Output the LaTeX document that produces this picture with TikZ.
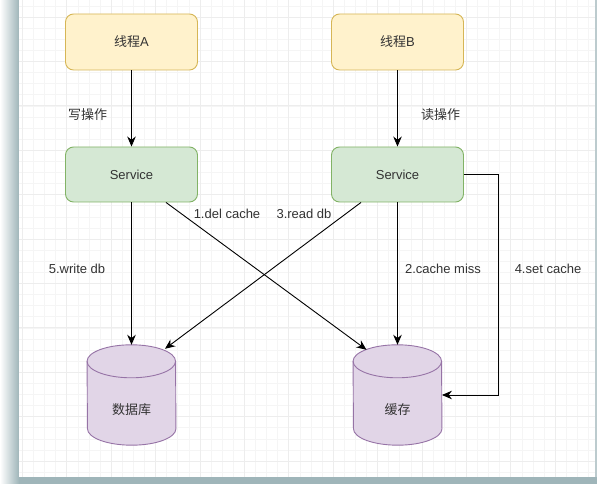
\documentclass[tikz,border=0pt]{standalone}
\usepackage{fontspec}
\setmainfont{Liberation Sans}
\newfontfamily\cjk{Noto Sans CJK SC}
\usetikzlibrary{arrows.meta,calc,positioning}

\definecolor{yfill}{HTML}{FFF2CC}
\definecolor{yline}{HTML}{D6B656}
\definecolor{gfill}{HTML}{D5E8D4}
\definecolor{gline}{HTML}{82B366}
\definecolor{pfill}{HTML}{E1D5E7}
\definecolor{pline}{HTML}{9673A6}
\definecolor{shadowc}{HTML}{9FB5B9}
\definecolor{txt}{HTML}{333333}

\pgfdeclarelayer{sheet}
\pgfdeclarelayer{drums}
\pgfsetlayers{sheet,drums,main}

\def\drumrx{44.25pt}
\def\drumry{16.5pt}

\begin{document}
\begin{tikzpicture}[x=1pt,y=1pt,font=\fontsize{13}{15}\selectfont,
    >={Stealth[length=10pt,width=8.5pt]}]
    \tikzstyle{thread}=[rectangle,rounded corners=8pt,draw=yline,fill=yfill,line width=0.9pt,minimum width=132pt,minimum height=56pt,text=txt]
    \tikzstyle{service}=[rectangle,rounded corners=8pt,draw=gline,fill=gfill,line width=0.9pt,minimum width=132pt,minimum height=55pt,text=txt]
    \tikzstyle{store}=[rectangle,minimum width=88.5pt,minimum height=100pt,inner sep=0pt]
    \tikzstyle{drum}=[fill=pfill,draw=pline,line width=0.9pt]
    \tikzstyle{annot}=[text=txt,inner sep=1pt]
    \tikzstyle{link}=[->,draw=black,line width=0.9pt]
    \tikzstyle{gridminor}=[draw=black!4,line width=0.5pt]
    \tikzstyle{gridmajor}=[draw=black!7,line width=0.6pt]

    \useasboundingbox (0,0) rectangle (597,484);

    %%%%%%%%%%%%%%%%%%%%%%%%%%%%%%%%%%%%%%%%%%%%
    %%% THE SHEET
    %%%%%%%%%%%%%%%%%%%%%%%%%%%%%%%%%%%%%%%%%%%%
    \begin{pgfonlayer}{sheet}
    \shade[left color=white,right color=shadowc] (0,0) rectangle (19,484);
    \fill[shadowc] (19,0) rectangle (597,7);
    \fill[shadowc!70] (595,7) rectangle (597,484);
    \fill[white] (19,7) rectangle (595,484);
    \foreach \i in {0,...,51}
        \draw[gridminor] ({22.3+11.1*\i},7) -- ({22.3+11.1*\i},484);
    \foreach \k in {-1,...,41}
        \draw[gridminor] (19,{467-11.1*\k}) -- (595,{467-11.1*\k});
    \foreach \i in {0,...,12}
        \draw[gridmajor] ({22.3+44.4*\i},7) -- ({22.3+44.4*\i},484);
    \foreach \k in {0,...,10}
        \draw[gridmajor] (19,{467-44.4*\k}) -- (595,{467-44.4*\k});
    \end{pgfonlayer}

    %%%%%%%%%%%%%%%%%%%%%%%%%%%%%%%%%%%%%%%%%%%%
    %%% DRAW THE NODES
    %%%%%%%%%%%%%%%%%%%%%%%%%%%%%%%%%%%%%%%%%%%%
    \node[thread] (thrA) at (131.5,442) {{\cjk 线程}A};
    \node[thread] (thrB) at (397.5,442) {{\cjk 线程}B};

    \node[service] (svcA) at (131.5,309.5) {Service};
    \node[service] (svcB) at (397.5,309.5) {Service};

    \node[store,label={[annot,yshift=-15pt]center:\cjk 数据库}] (db) at (131.5,89) {};
    \node[store,label={[annot,yshift=-15pt]center:\cjk 缓存}] (cache) at (397.5,89) {};

    % the drums behind the two stores
    \begin{pgfonlayer}{drums}
    \foreach \s in {db,cache} {
        \path[drum] ($(\s.north west)+(0,-16.5)$)
            arc[start angle=180,end angle=0,x radius=\drumrx,y radius=\drumry]
            -- ($(\s.south east)+(0,16.5)$)
            arc[start angle=0,end angle=-180,x radius=\drumrx,y radius=\drumry]
            -- cycle;
        \draw[drum,fill=none] ($(\s.north west)+(0,-16.5)$)
            arc[start angle=180,end angle=360,x radius=\drumrx,y radius=\drumry];
    }
    \end{pgfonlayer}

    %%%%%%%%%%%%%%%%%%%%%%%%%%%%%%%%%%%%%%%%%%%%
    %%% DRAW THE PATHS
    %%%%%%%%%%%%%%%%%%%%%%%%%%%%%%%%%%%%%%%%%%%%
    \draw[link] (thrA) -- (svcA);
    \draw[link] (thrB) -- (svcB);
    \draw[link] (svcA) -- (db);
    \draw[link] ($(svcA.south)+(34.5,0)$) -- ($(cache.north)+(-31,-5)$);
    \draw[link] ($(svcB.south)+(-36.5,0)$) -- ($(db.north)+(33.5,-4)$);
    \draw[link] (svcB) -- (cache);
    \draw[link] (svcB.east) -- ++(34.5,0) |- (cache.east);

    % Annotate the paths
    \node[annot] (lwrite) at (87.5,369) {\cjk 写操作};
    \node[annot] (lread) at (440.5,369) {\cjk 读操作};
    \node[annot] (l1) at (227,270) {1.del cache};
    \node[annot] (l3) at (304,270) {3.read db};
    \node[annot] (l5) at (77,215) {5.write db};
    \node[annot] (l2) at (443,215) {2.cache miss};
    \node[annot] (l4) at (548,215) {4.set cache};
\end{tikzpicture}
\end{document}
